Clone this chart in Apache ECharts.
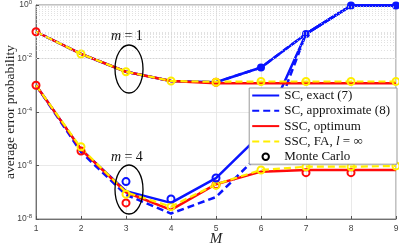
<!DOCTYPE html>
<html><head><meta charset="utf-8">
<script src="https://cdn.jsdelivr.net/npm/echarts@6/dist/echarts.min.js"></script>
<style>html,body{margin:0;padding:0;background:#fff}#c{width:399px;height:247px}</style>
</head><body><div id="c"></div>
<script>
// ---------- data ----------
const M = [1, 2, 3, 4, 5, 6, 7, 8, 9];
// m = 1
const scExactM1  = [0.1, 0.0148, 0.0032, 0.00144, 0.0013, 0.0046, 0.083, 0.95, 0.96];
const scApproxM1 = [0.1, 0.0148, 0.0032, 0.00144, 0.0013, 0.0046, 0.083, 0.95, 0.96];
const ssOptM1    = [0.1, 0.0148, 0.0032, 0.00144, 0.0012, 0.00118, 0.00118, 0.00118, 0.00118];
const ssFaM1     = [0.1, 0.0148, 0.0032, 0.00144, 0.00135, 0.00138, 0.00138, 0.00138, 0.00138];
// m = 4
const scExactM4  = [1e-3, 4e-6, 1.1e-7, 4e-8, 3.4e-7, 1.5e-5, 0.083, 0.95, 0.96];
const scApproxM4 = [1e-3, 3.2e-6, 8e-8, 1.6e-8, 6.6e-8, 3e-6, 0.083, 0.95, 0.96];
const ssOptM4    = [1e-3, 4e-6, 1e-7, 2.2e-8, 2e-7, 5.9e-7, 6.8e-7, 6.8e-7, 6.8e-7];
const ssFaM4     = [1e-3, 4.5e-6, 1e-7, 2.9e-8, 2e-7, 6.8e-7, 9e-7, 9e-7, 9.6e-7];
// Monte Carlo points
const mcBlueFilledX = [6, 7, 8, 9];
const mcBlueFilledY = [0.0046, 0.083, 0.95, 0.96];
const mcBlueX = [3, 4, 5];
const mcBlueY = [2.5e-7, 5.6e-8, 3.4e-7];
const mcRedX = [1, 5, 1, 2, 3, 5, 7, 8];
const mcRedY = [0.1, 0.0013, 1e-3, 3.5e-6, 4e-8, 1.9e-7, 5.4e-7, 5.4e-7];
const mcYellowX = [2, 3, 4, 5, 6, 7, 8, 9, 2, 3, 4, 5, 6, 7, 8, 9];
const mcYellowY = [0.0148, 0.0032, 0.00144, 0.0013, 0.00138, 0.00138, 0.00138, 0.00138,
                   5e-6, 8.5e-8, 2.9e-8, 1.8e-7, 6.8e-7, 9e-7, 9e-7, 9.6e-7];
const xTicks = [1, 2, 3, 4, 5, 6, 7, 8, 9];
const legendNames = ['SC, exact (7)', 'SC, approximate (8)', 'SSC, optimum', 'SSC, FA, l = ∞', 'Monte Carlo'];

// ---------- styles ----------
const BLUE = '#0a14ff', RED = '#ff0a0a', YEL = '#ffee00';
const SERIF = 'Liberation Serif';
const SANS = 'Liberation Sans';

function pairs(ys) { return M.map((m, i) => [m, ys[i]]); }
function zip(xs, ys) { return xs.map((x, i) => [x, ys[i]]); }

// minor grid values
const minorVals = [];
for (let e = -8; e < 0; e++) {
  for (let k = 1; k <= 9; k++) {
    if (k === 1 && (e % 2 === 0)) continue;
    minorVals.push(k * Math.pow(10, e));
  }
}

function lineS(name, ys, color, dashed, width) {
  return {
    type: 'line', name: name, data: pairs(ys), symbol: 'none',
    lineStyle: { color: color, width: width, type: dashed ? [7, 4] : 'solid' },
    itemStyle: { color: color }, silent: true, z: 2
  };
}
function mcS(name, xs, ys, color, filled, size) {
  return {
    type: 'scatter', name: name, data: zip(xs, ys), symbol: 'circle', symbolSize: size,
    itemStyle: { color: filled ? color : 'rgba(0,0,0,0)', borderColor: color, borderWidth: 2, opacity: 1 },
    silent: true, z: 3
  };
}

const series = [
  {
    type: 'line', name: '_grid', data: [], silent: true,
    markLine: {
      silent: true, symbol: 'none', label: { show: false },
      lineStyle: { color: '#d4d4d4', type: [1, 2], width: 0.7 },
      data: minorVals.map(v => ({ yAxis: v }))
    }
  },
  lineS('SC, exact (7)', scExactM1, BLUE, false, 2.5),
  lineS('SC, exact (7)', scExactM4, BLUE, false, 2.5),
  lineS('SC, approximate (8)', scApproxM1, BLUE, true, 2.5),
  lineS('SC, approximate (8)', scApproxM4, BLUE, true, 2.5),
  lineS('SSC, optimum', ssOptM1, RED, false, 2.5),
  lineS('SSC, optimum', ssOptM4, RED, false, 2.5),
  lineS('SSC, FA, l = ∞', ssFaM1, YEL, true, 2.2),
  lineS('SSC, FA, l = ∞', ssFaM4, YEL, true, 2.2),
  mcS('mcRed', mcRedX, mcRedY, RED, false, 7),
  mcS('mcYellow', mcYellowX, mcYellowY, YEL, false, 7),
  mcS('mcBlue', mcBlueX, mcBlueY, BLUE, false, 7),
  mcS('mcBlueFilled', mcBlueFilledX, mcBlueFilledY, BLUE, true, 6),
  {
    type: 'line', name: 'Monte Carlo', data: [], symbol: 'emptyCircle',
    itemStyle: { color: '#000' }, lineStyle: { width: 0, color: 'rgba(0,0,0,0)' }
  }
];

const legendData = legendNames.map(n => (n === 'Monte Carlo'
  ? { name: n }
  : { name: n, itemStyle: { opacity: 0 } }));

const chart = echarts.init(document.getElementById('c'), null, { renderer: 'canvas' });
chart.setOption({
  animation: false,
  backgroundColor: '#fff',
  grid: { left: 36, right: 3, top: 5, bottom: 28, containLabel: false, outerBoundsMode: 'none',
    show: true, borderColor: '#666', borderWidth: 0.8, backgroundColor: 'transparent' },
  xAxis: {
    type: 'value', min: 1, max: 9, interval: 1,
    name: 'M', nameLocation: 'middle', nameGap: 13, nameMoveOverlap: false,
    nameTextStyle: { fontFamily: SERIF, fontStyle: 'italic', fontSize: 15, color: '#222' },
    axisLine: { show: true, lineStyle: { color: '#555', width: 0.8 } },
    axisTick: { show: true, inside: true, length: 3, lineStyle: { color: '#555' } },
    axisLabel: { fontFamily: SANS, fontSize: 8.5, color: '#444', margin: 5,
      formatter: v => (xTicks.indexOf(v) >= 0 ? String(v) : '') },
    splitLine: { show: true, lineStyle: { color: '#e3e3e3', width: 0.8 } }
  },
  yAxis: {
    type: 'log', logBase: 10, min: 1e-8, max: 1, interval: 2,
    name: 'average error probability', nameLocation: 'middle', nameGap: 19, nameRotate: 90,
    nameMoveOverlap: false,
    nameTextStyle: { fontFamily: SERIF, fontSize: 13.5, color: '#222' },
    axisLine: { show: true, lineStyle: { color: '#555', width: 0.8 } },
    axisTick: { show: true, inside: true, length: 3, lineStyle: { color: '#555' } },
    axisLabel: {
      margin: 4, color: '#444',
      formatter: function (v) {
        const e = Math.round(Math.log10(v));
        return '{b|10}{s|' + e + '}';
      },
      rich: {
        b: { fontFamily: SANS, fontSize: 8.5, color: '#444' },
        s: { fontFamily: SANS, fontSize: 6, color: '#444', padding: [0, 0, 6, 0] }
      }
    },
    splitLine: { show: true, lineStyle: { color: '#e3e3e3', width: 0.8 } }
  },
  legend: {
    data: legendData, orient: 'vertical', right: 2, top: 88,
    itemWidth: 27, itemHeight: 8, itemGap: 2.3,
    padding: [1, 7, 1, 2],
    backgroundColor: '#fff', borderColor: '#999', borderWidth: 1, borderRadius: 0,
    textStyle: { fontFamily: SERIF, fontSize: 13, color: '#111', lineHeight: 13,
      rich: {
        t: { fontFamily: SERIF, fontSize: 13, color: '#111' },
        i: { fontFamily: SERIF, fontSize: 13, fontStyle: 'italic', color: '#111' }
      } },
    formatter: function (name) {
      if (name === 'SSC, FA, l = ∞') return '{t|SSC, FA, }{i|l}{t| = ∞}';
      return '{t|' + name + '}';
    },
    selectedMode: false
  },
  graphic: [
    { type: 'ellipse', shape: { cx: 129, cy: 69, rx: 14, ry: 24 }, style: { fill: 'none', stroke: '#000', lineWidth: 1.3 }, z: 20 },
    { type: 'ellipse', shape: { cx: 129, cy: 189.5, rx: 14, ry: 24.5 }, style: { fill: 'none', stroke: '#000', lineWidth: 1.3 }, z: 20 },
    { type: 'text', left: 111, top: 29, z: 20, style: { text: '{i|m} {t|= 1}', rich: {
        i: { fontFamily: SERIF, fontStyle: 'italic', fontSize: 14, fill: '#111' },
        t: { fontFamily: SERIF, fontSize: 14, fill: '#111' } } } },
    { type: 'text', left: 111, top: 150, z: 20, style: { text: '{i|m} {t|= 4}', rich: {
        i: { fontFamily: SERIF, fontStyle: 'italic', fontSize: 14, fill: '#111' },
        t: { fontFamily: SERIF, fontSize: 14, fill: '#111' } } } }
  ],
  series: series
});
</script></body></html>
